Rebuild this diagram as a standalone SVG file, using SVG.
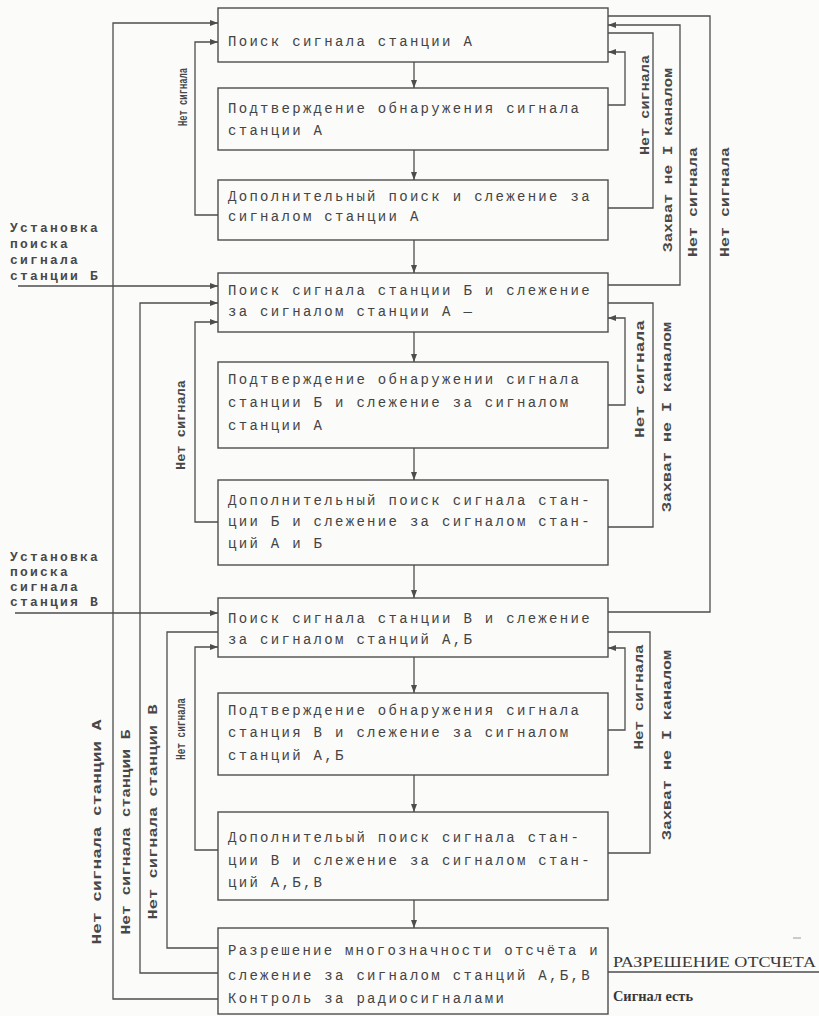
<svg xmlns="http://www.w3.org/2000/svg" width="819" height="1016" viewBox="0 0 819 1016">
<style>
.bg{fill:#fbfbfa}
.box{fill:none;stroke:#4d4d4d;stroke-width:1.4}
.c{fill:none;stroke:#4d4d4d;stroke-width:1.3}
.t{font-family:"Liberation Mono","DejaVu Sans Mono",monospace;font-size:14px;fill:#444;letter-spacing:2.3px}
.l{font-family:"Liberation Mono","DejaVu Sans Mono",monospace;font-size:13px;font-weight:bold;fill:#484848}
.s{font-family:"Liberation Mono","DejaVu Sans Mono",monospace;font-size:13px;font-weight:bold;fill:#484848;letter-spacing:2.2px}
.r{font-family:"Liberation Serif","Times New Roman",serif;fill:#383838}
</style>
<defs>
<marker id="ah" viewBox="0 0 8 6" refX="8" refY="3" markerWidth="8" markerHeight="6" markerUnits="userSpaceOnUse" orient="auto">
<path d="M0,0 L8,3 L0,6 z" fill="#4d4d4d"/>
</marker>
</defs>
<rect class="bg" x="0" y="0" width="819" height="1016"/>

<g id="connectors">
<line class="c" x1="414" y1="62" x2="414" y2="88" marker-end="url(#ah)"/>
<line class="c" x1="414" y1="150" x2="414" y2="180" marker-end="url(#ah)"/>
<line class="c" x1="414" y1="240" x2="414" y2="273" marker-end="url(#ah)"/>
<line class="c" x1="414" y1="332" x2="414" y2="362" marker-end="url(#ah)"/>
<line class="c" x1="414" y1="448" x2="414" y2="480" marker-end="url(#ah)"/>
<line class="c" x1="414" y1="565" x2="414" y2="598" marker-end="url(#ah)"/>
<line class="c" x1="414" y1="657" x2="414" y2="693" marker-end="url(#ah)"/>
<line class="c" x1="414" y1="775" x2="414" y2="812" marker-end="url(#ah)"/>
<line class="c" x1="414" y1="900" x2="414" y2="928" marker-end="url(#ah)"/>
<path class="c" d="M218,999 H113 V23 H218" marker-end="url(#ah)"/>
<path class="c" d="M218,973 H140 V303 H218" marker-end="url(#ah)"/>
<path class="c" d="M218,948 H167 V632 H218"/>
<path class="c" d="M218,215 H195 V42 H218" marker-end="url(#ah)"/>
<path class="c" d="M218,522 H195 V322 H218" marker-end="url(#ah)"/>
<path class="c" d="M218,850 H195 V647 H218" marker-end="url(#ah)"/>
<path class="c" d="M18,286 H218" marker-end="url(#ah)"/>
<path class="c" d="M15,613 H218" marker-end="url(#ah)"/>
<path class="c" d="M608,105 H625 V52 H608" marker-end="url(#ah)"/>
<path class="c" d="M608,208 H653 V33 H608"/>
<path class="c" d="M608,285 H680 V25 H608" marker-end="url(#ah)"/>
<path class="c" d="M608,612 H710 V16 H608"/>
<path class="c" d="M608,405 H625 V318 H608" marker-end="url(#ah)"/>
<path class="c" d="M608,527 H653 V303 H608"/>
<path class="c" d="M608,730 H625 V648 H608" marker-end="url(#ah)"/>
<path class="c" d="M608,853 H650 V632 H608"/>
<path class="c" d="M608,972 H819"/>
<line x1="793" y1="938" x2="801" y2="938" stroke="#9a9a9a" stroke-width="1"/>
</g>

<g id="labels">
<text class="s" x="10" y="232">Установка</text>
<text class="s" x="10" y="248">поиска</text>
<text class="s" x="10" y="264">сигнала</text>
<text class="s" x="10" y="280">станции Б</text>
<text class="s" x="10" y="561">Установка</text>
<text class="s" x="10" y="576">поиска</text>
<text class="s" x="10" y="591">сигнала</text>
<text class="s" x="10" y="606">станция В</text>

<text class="l" transform="translate(183,97) rotate(-90)" text-anchor="middle" dominant-baseline="central" textLength="58" lengthAdjust="spacingAndGlyphs">Нет сигнала</text>
<text class="l" transform="translate(181,425) rotate(-90)" text-anchor="middle" dominant-baseline="central" textLength="90" lengthAdjust="spacingAndGlyphs">Нет сигнала</text>
<text class="l" transform="translate(181,729) rotate(-90)" text-anchor="middle" dominant-baseline="central" textLength="62" lengthAdjust="spacingAndGlyphs">Нет сигнала</text>
<text class="l" transform="translate(153,812) rotate(-90)" text-anchor="middle" dominant-baseline="central" textLength="215" lengthAdjust="spacingAndGlyphs">Нет сигнала станции В</text>
<text class="l" transform="translate(126,832) rotate(-90)" text-anchor="middle" dominant-baseline="central" textLength="205" lengthAdjust="spacingAndGlyphs">Нет сигнала станции Б</text>
<text class="l" transform="translate(97,832) rotate(-90)" text-anchor="middle" dominant-baseline="central" textLength="225" lengthAdjust="spacingAndGlyphs">Нет сигнала станции А</text>

<text class="l" transform="translate(645,105) rotate(-90)" text-anchor="middle" dominant-baseline="central" textLength="100" lengthAdjust="spacingAndGlyphs">Нет сигнала</text>
<text class="l" transform="translate(668,160) rotate(-90)" text-anchor="middle" dominant-baseline="central" textLength="184" lengthAdjust="spacingAndGlyphs">Захват не I каналом</text>
<text class="l" transform="translate(693,202) rotate(-90)" text-anchor="middle" dominant-baseline="central" textLength="110" lengthAdjust="spacingAndGlyphs">Нет сигнала</text>
<text class="l" transform="translate(725,202) rotate(-90)" text-anchor="middle" dominant-baseline="central" textLength="110" lengthAdjust="spacingAndGlyphs">Нет сигнала</text>
<text class="l" transform="translate(640,379) rotate(-90)" text-anchor="middle" dominant-baseline="central" textLength="118" lengthAdjust="spacingAndGlyphs">Нет сигнала</text>
<text class="l" transform="translate(667,417) rotate(-90)" text-anchor="middle" dominant-baseline="central" textLength="190" lengthAdjust="spacingAndGlyphs">Захват не I каналом</text>
<text class="l" transform="translate(639,697) rotate(-90)" text-anchor="middle" dominant-baseline="central" textLength="105" lengthAdjust="spacingAndGlyphs">Нет сигнала</text>
<text class="l" transform="translate(667,745) rotate(-90)" text-anchor="middle" dominant-baseline="central" textLength="190" lengthAdjust="spacingAndGlyphs">Захват не I каналом</text>

<text class="r" x="613" y="967" font-size="15" textLength="203" lengthAdjust="spacingAndGlyphs">РАЗРЕШЕНИЕ ОТСЧЕТА</text>
<text class="r" x="613" y="1001" font-size="14" font-weight="bold" textLength="80" lengthAdjust="spacingAndGlyphs">Сигнал есть</text>
</g>

<g id="n1"><rect class="box" x="218" y="8" width="390" height="54"/>
<text class="t" x="228" y="46">Поиск сигнала станции А</text></g>
<g id="n2"><rect class="box" x="218" y="88" width="390" height="62"/>
<text class="t" x="228" y="113">Подтверждение обнаружения сигнала</text>
<text class="t" x="228" y="135">станции А</text></g>
<g id="n3"><rect class="box" x="218" y="180" width="390" height="60"/>
<text class="t" x="228" y="201">Дополнительный поиск и слежение за</text>
<text class="t" x="228" y="221">сигналом станции А</text></g>
<g id="n4"><rect class="box" x="218" y="273" width="390" height="59"/>
<text class="t" x="228" y="295">Поиск сигнала станции Б и слежение</text>
<text class="t" x="228" y="316">за сигналом станции А  —</text></g>
<g id="n5"><rect class="box" x="218" y="362" width="390" height="86"/>
<text class="t" x="228" y="384">Подтверждение обнаружении сигнала</text>
<text class="t" x="228" y="407">станции Б и слежение за сигналом</text>
<text class="t" x="228" y="430">станции А</text></g>
<g id="n6"><rect class="box" x="218" y="480" width="390" height="85"/>
<text class="t" x="228" y="505">Дополнительный поиск сигнала стан-</text>
<text class="t" x="228" y="526">ции Б и слежение за сигналом стан-</text>
<text class="t" x="228" y="548">ций А и Б</text></g>
<g id="n7"><rect class="box" x="218" y="598" width="390" height="59"/>
<text class="t" x="228" y="623">Поиск сигнала станции В и слежение</text>
<text class="t" x="228" y="644">за сигналом станций А,Б</text></g>
<g id="n8"><rect class="box" x="218" y="693" width="390" height="82"/>
<text class="t" x="228" y="715">Подтверждение обнаружения сигнала</text>
<text class="t" x="228" y="737">станция В и слежение за сигналом</text>
<text class="t" x="228" y="760">станций А,Б</text></g>
<g id="n9"><rect class="box" x="218" y="812" width="390" height="88"/>
<text class="t" x="228" y="842">Дополнительый поиск сигнала стан-</text>
<text class="t" x="228" y="865">ции В и слежение за сигналом стан-</text>
<text class="t" x="228" y="887">ций А,Б,В</text></g>
<g id="n10"><rect class="box" x="218" y="928" width="390" height="86"/>
<text class="t" x="228" y="955" textLength="372" lengthAdjust="spacing">Разрешение многозначности отсчёта и</text>
<text class="t" x="228" y="980">слежение за сигналом станций А,Б,В</text>
<text class="t" x="228" y="1003">Контроль за радиосигналами</text></g>
</svg>
